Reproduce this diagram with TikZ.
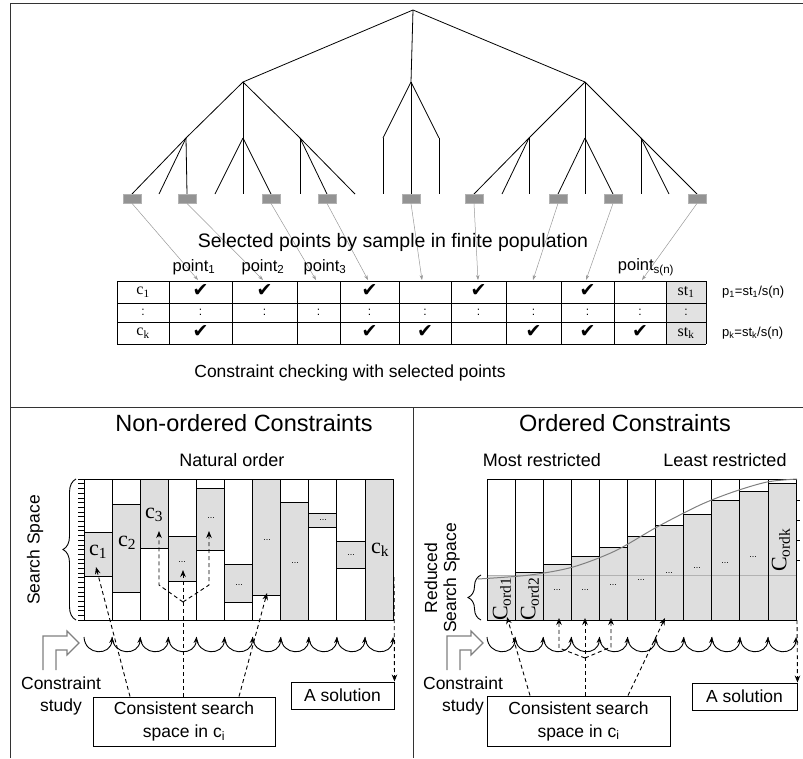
\documentclass[tikz,border=0pt]{standalone}
\usepackage{fontspec}
\setmainfont{Liberation Sans}
\newfontfamily\seriffont{Liberation Serif}
\newfontfamily\symbolfont{DejaVu Sans}
\usetikzlibrary{arrows.meta,decorations.pathreplacing,positioning}

\definecolor{ptgray}{HTML}{939393}
\definecolor{cellgray}{HTML}{E2E2E2}
\definecolor{bargray}{HTML}{DEDEDE}
\definecolor{curvegray}{HTML}{808080}

\newcommand{\fsz}[2]{\fontsize{#1}{#2}\selectfont}
\newcommand{\ckmark}{{\symbolfont\fsz{19}{19}✔}}

\begin{document}
\begin{tikzpicture}[x=1pt,y=-1pt,
  every node/.style={inner sep=0pt},
  edge/.style={line width=0.8pt},
  panelline/.style={line width=1pt,black!80},
  selpt/.style={draw=gray!60,fill=ptgray,minimum width=18pt,minimum height=9pt},
  selarrow/.style={gray!80,line width=0.5pt,-{Stealth[length=5pt,width=3.5pt]}},
  tabline/.style={line width=1pt},
  barcol/.style={line width=1pt},
  graybar/.style={draw,line width=1pt,fill=bargray},
  tickmark/.style={line width=0.5pt},
  dsharrow/.style={line width=0.9pt,dash pattern=on 4pt off 3pt,-{Stealth[length=7pt,width=5.5pt]}},
  wave/.style={line width=0.9pt,-{Stealth[length=6pt,width=5pt]}},
  hollow/.style={draw=gray,line width=1.2pt},
  bracebar/.style={decorate,decoration={brace,amplitude=13pt},line width=0.9pt},
  txtbox/.style={draw,line width=1pt,align=center,font=\fsz{17.5}{23}},
  paneltitle/.style={font=\fsz{23.5}{26}},
  subtitle/.style={font=\fsz{18}{20}},
  ptlabel/.style={font=\fsz{16.5}{18}},
  cellsf/.style={font=\seriffont\fsz{16}{16}},
  barlabel/.style={font=\seriffont\fsz{22}{22}},
  dotlabel/.style={font=\fsz{9}{9}}
]
\useasboundingbox (0,0) rectangle (803,758);

% panel frame
\draw[panelline] (10,758) -- (10,3) -- (803,3);
\draw[panelline] (10,407) -- (803,407);
\draw[panelline] (413,407) -- (413,758);

% search tree
\coordinate (root) at (413,10);
\coordinate (na) at (243,82);
\coordinate (nb) at (411,82);
\coordinate (nc) at (585,82);
\foreach \m/\x in {a/186,b/243,c/300,d/383,e/411,f/439,g/529,h/585,i/641}
  \coordinate (m\m) at (\x,138);
\foreach \n in {na,nb,nc}
  \draw[edge] (root) -- (\n);
\foreach \n/\m in {na/a,na/b,na/c,nb/d,nb/e,nb/f,nc/g,nc/h,nc/i}
  \draw[edge] (\n) -- (m\m);
\foreach \m/\x [count=\k] in {a/132,a/159,a/187,b/215,b/243,b/271,c/300,c/327,c/355,d/383,e/411,f/439,g/474,g/502,g/529,h/558,h/585,h/613,i/641,i/669,i/697}{
  \coordinate (leaf\k) at (\x,194);
  \draw[edge] (m\m) -- (leaf\k);
}

% selected points
\foreach \k [count=\i] in {1,3,6,8,11,13,16,18,21}
  \node[selpt,anchor=north] (pt\i) at (leaf\k) {};
\foreach \x [count=\i] in {198,263,316,368,422,478,533,586,642}
  \coordinate (col\i) at (\x,280);
\foreach \i in {1,...,9}
  \draw[selarrow] (pt\i.south) -- (col\i);

\node[font=\fsz{19.5}{22}] (seltext) at (393,242) {Selected points by sample in finite population};
\node[ptlabel] (lab1) at (194,267) {point\textsubscript{1}};
\node[ptlabel] (lab2) at (263,267) {point\textsubscript{2}};
\node[ptlabel] (lab3) at (325,267) {point\textsubscript{3}};
\node[ptlabel] (labn) at (646,267) {point\textsubscript{s(n)}};

% constraint table
\fill[cellgray] (666,281) rectangle (706,344);
\foreach \y in {281,303,322,344}
  \draw[tabline] (117,\y) -- (706,\y);
\foreach \x in {117,169,232,297,340,399,451,506,561,614,666,706}
  \draw[tabline] (\x,281) -- (\x,344);
\node[cellsf] (c1) at (143,292) {c\textsubscript{1}};
\node[cellsf] (ck) at (143,333) {c\textsubscript{k}};
\node[cellsf] (st1) at (686,292) {st\textsubscript{1}};
\node[cellsf] (stk) at (686,333) {st\textsubscript{k}};
\foreach \x [count=\i] in {143,200.5,264.5,318.5,369.5,425,478.5,533.5,587.5,640,686}
  \node[font=\fsz{12}{12}] (dots\i) at (\x,312) {:};
\foreach \x [count=\i] in {200.5,264.5,369.5,478.5,587.5}
  \node (chka\i) at (\x,291) {\ckmark};
\foreach \x [count=\i] in {200.5,369.5,425,533.5,587.5,640}
  \node (chkb\i) at (\x,332) {\ckmark};
\node[font=\fsz{13}{13},anchor=west] (p1) at (722,292) {p\textsubscript{1}=st\textsubscript{1}/s(n)};
\node[font=\fsz{13}{13},anchor=west] (pk) at (722,333) {p\textsubscript{k}=st\textsubscript{k}/s(n)};

\node[font=\fsz{17.5}{20}] (chktext) at (350,373) {Constraint checking with selected points};

% non-ordered constraints
\node[paneltitle] (titleL) at (244,423) {Non-ordered Constraints};
\node[subtitle] (natural) at (232,460) {Natural order};
\foreach \i/\t/\b in {1/532/576,2/504/592,3/479/548,4/536/581,5/488/550,6/564/602,7/479/595,8/502/620,9/513/527,10/541/568,11/479/620}
  \filldraw[graybar] ({84+(\i-1)*28.1},\t) rectangle ({84+\i*28.1},\b);
\foreach \i in {0,...,11}
  \draw[barcol] ({84+\i*28.1},479) -- ({84+\i*28.1},620);
\draw[barcol] (84,479) -- (393.1,479);
\draw[barcol] (84,620) -- (393.1,620);
\foreach \t in {0,...,30}
  \draw[tickmark] (78,{479+\t*4.7}) -- (84,{479+\t*4.7});
\draw[bracebar] (76,620) -- (76,479);
\node[rotate=90,font=\fsz{17.5}{20}] (ssL) at (35,550) {Search Space};

\node[barlabel] (bc1) at (98,552) {c\textsubscript{1}};
\node[barlabel] (bc2) at (127,543) {c\textsubscript{2}};
\node[barlabel] (bc3) at (154,515) {c\textsubscript{3}};
\node[barlabel] (bck) at (380,550) {c\textsubscript{k}};
\foreach \x/\y [count=\i] in {182/562,211/518,239/585,267/540,295/563,323/520,351/555}
  \node[dotlabel] (dl\i) at (\x,\y) {...};

\foreach \i in {0,...,10}
  \draw[wave] ({84+\i*28.1},637) .. controls ({85+\i*28.1},656) and ({83+(\i+1)*28.1},656) .. ({84+(\i+1)*28.1},637);
\draw[hollow] (43,670) -- (43,636) -- (67,636) -- (67,631) -- (79,643) -- (67,655) -- (67,650) -- (56,650) -- (56,670);
\node[align=center,font=\fsz{17.5}{22}] (studyL) at (61,696) {Constraint\\study};
\node[txtbox,minimum width=182pt,minimum height=49pt] (csL) at (184,721.5) {Consistent search\\space in c\textsubscript{i}};
\node[txtbox,minimum width=103pt,minimum height=27pt] (solL) at (342.5,695.5) {A solution};

\coordinate (tL1) at (96,567);
\coordinate (tL3) at (159,531);
\coordinate (tL4) at (183,570);
\coordinate (tL5) at (209,531);
\coordinate (tL7) at (267,593);
\coordinate (jL) at (183,602);
\coordinate (bL3) at (159,585);
\coordinate (bL5) at (209,585);
\coordinate (eL) at (394,577);
\draw[dsharrow] ([xshift=-54pt]csL.north) -- (tL1);
\draw[dsharrow] ([xshift=-1pt]csL.north) -- (tL4);
\draw[dsharrow] ([xshift=55pt]csL.north) -- (tL7);
\draw[dsharrow] (jL) -- (bL3) -- (tL3);
\draw[dsharrow] (jL) -- (bL5) -- (tL5);
\draw[dsharrow] (eL) -- (solL.north east);

% ordered constraints
\node[paneltitle] (titleR) at (625,423) {Ordered Constraints};
\node[subtitle] (most) at (542,460) {Most restricted};
\node[subtitle] (least) at (725,460) {Least restricted};
\foreach \i/\t in {1/575,2/572,3/564,4/556,5/547,6/536,7/525,8/514,9/500,10/491,11/483}
  \filldraw[graybar] ({487+(\i-1)*28.1},\t) rectangle ({487+\i*28.1},620);
\draw[gray!60,line width=1pt] (487,575) -- (796,575);
\foreach \i in {0,...,11}
  \draw[barcol] ({487+\i*28.1},479) -- ({487+\i*28.1},620);
\draw[barcol] (487,479) -- (796.1,479);
\draw[barcol] (487,620) -- (796.1,620);
\foreach \y in {500,520,540,560}
  \draw[tickmark] (796,\y) -- (800,\y);
\draw[curvegray,line width=1pt] plot[smooth] coordinates {(478,579) (530,575) (573,567) (615,551) (657,527) (700,505) (733,492) (767,482) (797,479)};
\draw[bracebar] (481,620) -- (481,575);
\node[rotate=90,align=center,font=\fsz{17.5}{19}] (ssR) at (442,578) {Reduced\\Search Space};

\node[barlabel,rotate=90] (bo1) at (502,599) {C\textsubscript{ord1}};
\node[barlabel,rotate=90] (bo2) at (530,599) {C\textsubscript{ord2}};
\node[barlabel,rotate=90] (bok) at (781,550) {C\textsubscript{ordk}};
\foreach \x/\y [count=\i] in {557/590,585/590,613/585,641/580,669/573,697/568,725/563,753/557}
  \node[dotlabel] (dr\i) at (\x,\y) {...};

\foreach \i in {0,...,10}
  \draw[wave] ({487+\i*28.1},637) .. controls ({488+\i*28.1},656) and ({486+(\i+1)*28.1},656) .. ({487+(\i+1)*28.1},637);
\draw[hollow] (447,670) -- (447,636) -- (471,636) -- (471,631) -- (483,643) -- (471,655) -- (471,650) -- (460,650) -- (460,670);
\node[align=center,font=\fsz{17.5}{22}] (studyR) at (463,696) {Constraint\\study};
\node[txtbox,minimum width=183pt,minimum height=50pt] (csR) at (578.5,721) {Consistent search\\space in c\textsubscript{i}};
\node[txtbox,minimum width=105pt,minimum height=27pt] (solR) at (744.5,696.5) {A solution};

\coordinate (tR1) at (507,617);
\coordinate (tR3) at (559,618);
\coordinate (tR4) at (585,618);
\coordinate (tR5) at (611,618);
\coordinate (tR7) at (665,618);
\coordinate (jR) at (585,658);
\coordinate (bR3) at (559,648);
\coordinate (bR5) at (611,647);
\coordinate (eR) at (797,620);
\draw[dsharrow] ([xshift=-48.5pt]csR.north) -- (tR1);
\draw[dsharrow] ([xshift=6.5pt]csR.north) -- (tR4);
\draw[dsharrow] ([xshift=49.5pt]csR.north) -- (tR7);
\draw[dsharrow] (jR) -- (bR3) -- (tR3);
\draw[dsharrow] (jR) -- (bR5) -- (tR5);
\draw[dsharrow] (eR) -- (solR.north east);
\end{tikzpicture}
\end{document}
